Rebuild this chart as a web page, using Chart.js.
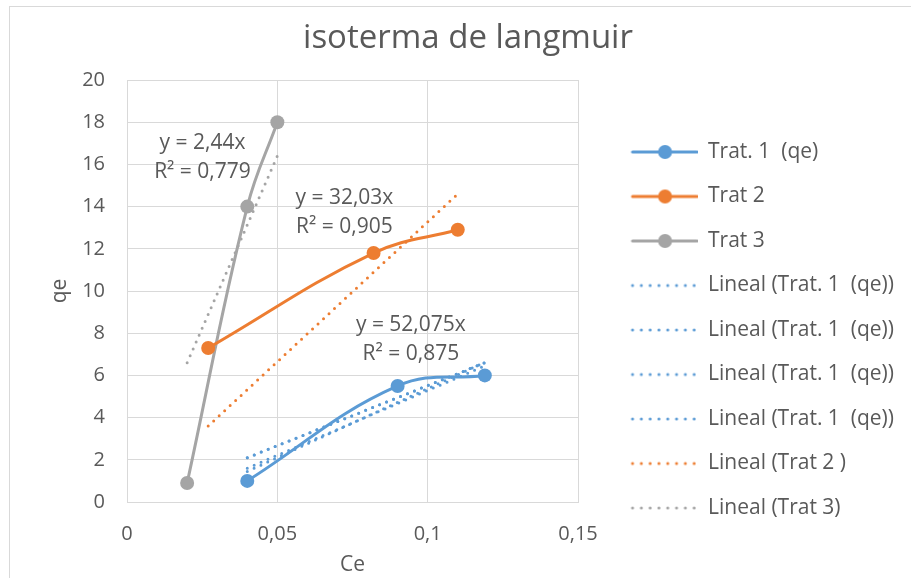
<!DOCTYPE html>
<html>
<head>
<meta charset="utf-8">
<script src="https://cdn.jsdelivr.net/npm/chart.js@4"></script>
<style>
  html, body { margin: 0; padding: 0; background: #fff; }
  #wrap { width: 911px; height: 578px; position: relative; }
</style>
</head>
<body>
<div id="wrap"><canvas id="chart"></canvas></div>
<script>
// measured points
const trat1X = [0.04, 0.09, 0.119];
const trat1Y = [1, 5.5, 6];
const trat2X = [0.027, 0.082, 0.11];
const trat2Y = [7.3, 11.8, 12.9];
const trat3X = [0.02, 0.04, 0.05];
const trat3Y = [0.9, 14, 18];

// trend lines (start / end)
const lin1aX = [0.04, 0.119];  const lin1aY = [2.1, 6.6];
const lin1bX = [0.04, 0.119];  const lin1bY = [1.45, 6.62];
const lin1cX = [0.04, 0.119];  const lin1cY = [1.6, 6.45];
const lin1dX = [0.04, 0.119];  const lin1dY = [2.1, 6.6];
const lin2X = [0.027, 0.11];  const lin2Y = [3.6, 14.6];
const lin3X = [0.02, 0.05];   const lin3Y = [6.6, 16.4];

const seriesNames = ['Trat. 1  (qe)', 'Trat 2', 'Trat 3',
  'Lineal (Trat. 1  (qe))', 'Lineal (Trat. 1  (qe))', 'Lineal (Trat. 1  (qe))', 'Lineal (Trat. 1  (qe))',
  'Lineal (Trat 2 )', 'Lineal (Trat 3)'];

const xTickLabels = ['0', '0,05', '0,1', '0,15'];

const eqText = [['y = 2,44x', 'R² = 0,779'], ['y = 32,03x', 'R² = 0,905'], ['y = 52,075x', 'R² = 0,875']];
const eqAtX = [0.0251, 0.0723, 0.0944];
const eqAtY = [16.33, 13.74, 7.72];

const BLUE = '#5B9BD5', ORANGE = '#ED7D31', GRAY = '#A5A5A5', TXT = '#595959', GRID = '#D9D9D9';
const FONT = '"Open Sans"';

function pts(xs, ys) {
  return xs.map((x, i) => ({x: x, y: ys[i]}));
}

function series(label, xs, ys, color) {
  return {
    label: label, data: pts(xs, ys), showLine: true, tension: 0.4,
    borderColor: color, backgroundColor: color, borderWidth: 3,
    pointRadius: 7, pointHoverRadius: 7, pointBorderWidth: 0
  };
}

function trend(label, xs, ys, color) {
  return {
    label: label, data: pts(xs, ys), showLine: true,
    borderColor: color, backgroundColor: color, borderWidth: 3,
    borderDash: [0, 7.5], borderCapStyle: 'round',
    pointRadius: 0, pointHoverRadius: 0
  };
}

// legend samples: a line with a marker, or a dotted line
function sample(color, dotted) {
  const c = document.createElement('canvas');
  c.width = 96; c.height = 16;
  const g = c.getContext('2d');
  g.strokeStyle = color; g.lineWidth = 3; g.lineCap = 'round';
  if (dotted) g.setLineDash([0, 8.8]);
  g.beginPath(); g.moveTo(31, 8); g.lineTo(dotted ? 93 : 95, 8); g.stroke();
  if (!dotted) {
    g.fillStyle = color;
    g.beginPath(); g.arc(63.5, 8, 7, 0, Math.PI * 2); g.fill();
  }
  return c;
}

const datasets = [
  series(seriesNames[0], trat1X, trat1Y, BLUE),
  series(seriesNames[1], trat2X, trat2Y, ORANGE),
  series(seriesNames[2], trat3X, trat3Y, GRAY),
  trend(seriesNames[3], lin1aX, lin1aY, BLUE),
  trend(seriesNames[4], lin1bX, lin1bY, BLUE),
  trend(seriesNames[5], lin1cX, lin1cY, BLUE),
  trend(seriesNames[6], lin1dX, lin1dY, BLUE),
  trend(seriesNames[7], lin2X, lin2Y, ORANGE),
  trend(seriesNames[8], lin3X, lin3Y, GRAY)
];
const samples = datasets.map(d => sample(d.borderColor, !!d.borderDash));

const frame = {
  id: 'frame',
  beforeDraw(chart) {
    const ctx = chart.ctx;
    ctx.save();
    ctx.strokeStyle = GRID; ctx.lineWidth = 1;
    ctx.strokeRect(9.5, 6.5, 1200, 1200);
    ctx.restore();
  }
};

const equations = {
  id: 'equations',
  afterDatasetsDraw(chart) {
    const ctx = chart.ctx, xs = chart.scales.x, ys = chart.scales.y;
    ctx.save();
    ctx.fillStyle = TXT;
    ctx.font = '21px ' + FONT;
    ctx.textAlign = 'center';
    ctx.textBaseline = 'middle';
    eqText.forEach((lines, i) => {
      const px = xs.getPixelForValue(eqAtX[i]);
      const py = ys.getPixelForValue(eqAtY[i]);
      ctx.fillText(lines[0], px, py - 14.5);
      ctx.fillText(lines[1], px, py + 14.5);
    });
    ctx.restore();
  }
};

new Chart(document.getElementById('chart'), {
  type: 'scatter',
  data: {datasets: datasets},
  plugins: [frame, equations],
  options: {
    responsive: true,
    maintainAspectRatio: false,
    animation: false,
    events: [],
    layout: {padding: {left: 32, right: 7, top: 0, bottom: 0}},
    plugins: {
      tooltip: {enabled: false},
      title: {
        display: true, text: 'isoterma de langmuir', color: TXT,
        font: {family: FONT, size: 33, weight: 'normal'},
        padding: {top: 19, bottom: 21.4}
      },
      legend: {
        position: 'right', align: 'start', maxWidth: 400,
        title: {display: true, text: ' ', font: {size: 12}, padding: {top: 0, bottom: 103.6}},
        labels: {
          color: TXT, font: {family: FONT, size: 21},
          usePointStyle: true, pointStyleWidth: 96, padding: 23.5,
          generateLabels(chart) {
            const items = Chart.defaults.plugins.legend.labels.generateLabels(chart);
            items.forEach((it, i) => { it.pointStyle = samples[i]; });
            return items;
          }
        }
      }
    },
    scales: {
      x: {
        type: 'linear', min: 0, max: 0.15,
        afterFit(s) { s.height = 76; },
        grid: {color: GRID, drawTicks: false},
        border: {color: GRID},
        ticks: {
          stepSize: 0.05, padding: 20, color: TXT, font: {family: FONT, size: 20},
          callback: (v, i) => xTickLabels[i]
        },
        title: {display: true, text: 'Ce', color: TXT, font: {family: FONT, size: 21}, padding: {top: 0, bottom: 0}}
      },
      y: {
        min: 0, max: 20,
        afterFit(s) { s.width = 95; },
        grid: {color: GRID, drawTicks: false},
        border: {color: GRID},
        ticks: {stepSize: 2, padding: 22, color: TXT, font: {family: FONT, size: 20}},
        title: {display: true, text: 'qe', color: TXT, font: {family: FONT, size: 21}, padding: {top: 15.4, bottom: 0}}
      }
    }
  }
});
</script>
</body>
</html>
